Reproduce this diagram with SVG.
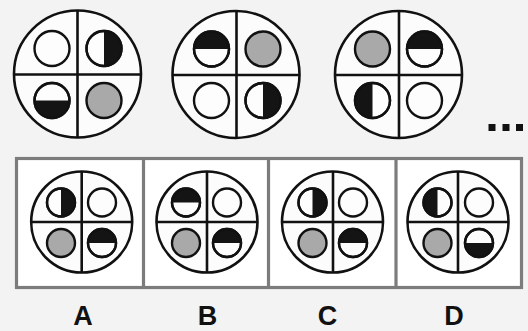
<svg xmlns="http://www.w3.org/2000/svg" width="528" height="331" viewBox="0 0 528 331">
<style>
.bg{fill:#f3f3f3}
.big{fill:#fcfcfc;stroke:#111;stroke-width:2.6}
.cross{stroke:#111;stroke-width:2.6;fill:none}
.sm{fill:#fdfdfd;stroke:#111;stroke-width:2.4}
.smo{fill:none;stroke:#111;stroke-width:2.4}
.blk{fill:#141414}
.gry{fill:#a9a9a9;stroke:#111;stroke-width:2.4}
.frame{fill:#ffffff;stroke:#7c7c7c;stroke-width:3.2}
.lbl{font-family:"Liberation Sans",Arial,sans-serif;font-weight:bold;font-size:27px;fill:#111;text-anchor:middle}
.dot{fill:#111}
</style>
<rect class="bg" x="0" y="0" width="528" height="331"/>

<g id="seq1">
<circle class="big" cx="77.5" cy="74" r="63.5"/>
<path class="cross" d="M77.5 10.5V137.5M14 74.5H141"/>
<circle class="sm" cx="52" cy="48.5" r="17.5"/>
<circle class="sm" cx="104" cy="48.5" r="17.5"/><path class="blk" d="M104 31A17.5 17.5 0 0 1 104 66Z"/><circle class="smo" cx="104" cy="48.5" r="17.5"/>
<circle class="sm" cx="52" cy="100.5" r="17.5"/><path class="blk" d="M34.5 100.5A17.5 17.5 0 0 0 69.5 100.5Z"/><circle class="smo" cx="52" cy="100.5" r="17.5"/>
<circle class="gry" cx="104" cy="100.5" r="17.5"/>
</g>

<g id="seq2">
<circle class="big" cx="236" cy="74.5" r="63.5"/>
<path class="cross" d="M236.5 11V138M172.5 75H299.5"/>
<circle class="sm" cx="211.5" cy="49" r="17.5"/><path class="blk" d="M194 49A17.5 17.5 0 0 1 229 49Z"/><circle class="smo" cx="211.5" cy="49" r="17.5"/>
<circle class="gry" cx="263" cy="49" r="17.5"/>
<circle class="sm" cx="211.5" cy="100.5" r="17.5"/>
<circle class="sm" cx="263" cy="100.5" r="17.5"/><path class="blk" d="M263 83A17.5 17.5 0 0 1 263 118Z"/><circle class="smo" cx="263" cy="100.5" r="17.5"/>
</g>

<g id="seq3">
<circle class="big" cx="398.5" cy="74.5" r="63.5"/>
<path class="cross" d="M399 11V138M335 75H462"/>
<circle class="gry" cx="372.5" cy="49" r="17.5"/>
<circle class="sm" cx="424.5" cy="49" r="17.5"/><path class="blk" d="M407 49A17.5 17.5 0 0 1 442 49Z"/><circle class="smo" cx="424.5" cy="49" r="17.5"/>
<circle class="sm" cx="372.5" cy="100.5" r="17.5"/><path class="blk" d="M372.5 83A17.5 17.5 0 0 0 372.5 118Z"/><circle class="smo" cx="372.5" cy="100.5" r="17.5"/>
<circle class="sm" cx="424.5" cy="100.5" r="17.5"/>
</g>

<g id="ellipsis">
<rect class="dot" x="488.5" y="124" width="7" height="7"/>
<rect class="dot" x="502.5" y="124" width="7" height="7"/>
<rect class="dot" x="516" y="124" width="7" height="7"/>
</g>

<g id="options-frame">
<rect class="frame" x="16.5" y="158.5" width="505" height="129"/>
<path d="M143.5 158.5V287.5M268.5 158.5V287.5M396 158.5V287.5" stroke="#7c7c7c" stroke-width="3.2" fill="none"/>
</g>

<g id="optA">
<circle class="big" cx="81.7" cy="222" r="50.5"/>
<path class="cross" d="M81.7 171.5V272.5M31.2 222H132.2"/>
<circle class="sm" cx="61" cy="202.5" r="14"/><path class="blk" d="M61 188.5A14 14 0 0 1 61 216.5Z"/><circle class="smo" cx="61" cy="202.5" r="14"/>
<circle class="sm" cx="102" cy="202.5" r="14"/>
<circle class="gry" cx="61" cy="243" r="14"/>
<circle class="sm" cx="102" cy="243" r="14"/><path class="blk" d="M88 243A14 14 0 0 1 116 243Z"/><circle class="smo" cx="102" cy="243" r="14"/>
</g>

<g id="optB">
<circle class="big" cx="207" cy="222" r="50.5"/>
<path class="cross" d="M207 171.5V272.5M156.5 222H257.5"/>
<circle class="sm" cx="186" cy="202.5" r="14"/><path class="blk" d="M172 202.5A14 14 0 0 1 200 202.5Z"/><circle class="smo" cx="186" cy="202.5" r="14"/>
<circle class="sm" cx="227" cy="202.5" r="14"/>
<circle class="gry" cx="186" cy="243" r="14"/>
<circle class="sm" cx="227" cy="243" r="14"/><path class="blk" d="M213 243A14 14 0 0 1 241 243Z"/><circle class="smo" cx="227" cy="243" r="14"/>
</g>

<g id="optC">
<circle class="big" cx="332.5" cy="222" r="50.5"/>
<path class="cross" d="M333 171.5V272.5M282 222H383"/>
<circle class="sm" cx="312.5" cy="202.5" r="14"/><path class="blk" d="M312.5 188.5A14 14 0 0 1 312.5 216.5Z"/><circle class="smo" cx="312.5" cy="202.5" r="14"/>
<circle class="sm" cx="353" cy="202.5" r="14"/>
<circle class="gry" cx="312.5" cy="243" r="14"/>
<circle class="sm" cx="353" cy="243" r="14"/><path class="blk" d="M339 243A14 14 0 0 1 367 243Z"/><circle class="smo" cx="353" cy="243" r="14"/>
</g>

<g id="optD">
<circle class="big" cx="458" cy="222" r="50.5"/>
<path class="cross" d="M458 171.5V272.5M407.5 222H508.5"/>
<circle class="sm" cx="437.5" cy="202.5" r="14"/><path class="blk" d="M437.5 188.5A14 14 0 0 0 437.5 216.5Z"/><circle class="smo" cx="437.5" cy="202.5" r="14"/>
<circle class="sm" cx="479" cy="202.5" r="14"/>
<circle class="gry" cx="437.5" cy="243" r="14"/>
<circle class="sm" cx="479" cy="243" r="14"/><path class="blk" d="M465 243A14 14 0 0 0 493 243Z"/><circle class="smo" cx="479" cy="243" r="14"/>
</g>

<g id="labels">
<text class="lbl" x="83" y="325">A</text>
<text class="lbl" x="207.5" y="325">B</text>
<text class="lbl" x="327.5" y="325">C</text>
<text class="lbl" x="454" y="325">D</text>
</g>
</svg>
